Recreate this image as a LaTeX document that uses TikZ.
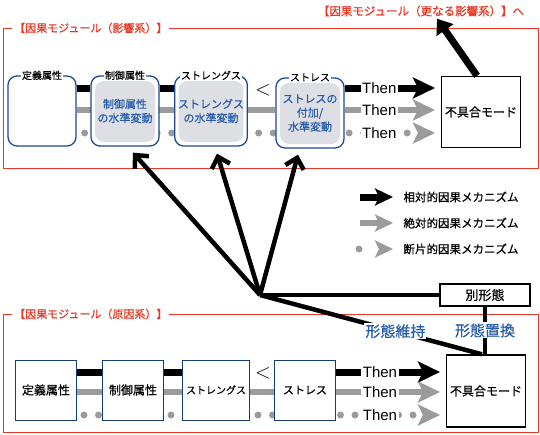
\documentclass[tikz,border=0pt]{standalone}
\usepackage{fontspec}
\setmainfont{Liberation Sans}
\newfontfamily\jp[FakeBold=0.6]{Noto Sans CJK JP}
\usetikzlibrary{arrows.meta,backgrounds}
\definecolor{modred}{RGB}{232,56,36}
\definecolor{attrblue}{RGB}{28,72,152}
\definecolor{textblue}{RGB}{38,92,172}
\definecolor{boxgray}{RGB}{222,223,228}
\definecolor{mechgray}{RGB}{155,155,155}
\tikzstyle{module}=[draw=modred, line width=1pt]
\tikzstyle{modlabel}=[
	text=modred,
	fill=white,
	inner sep=2pt,
	anchor=west,
	font=\jp\fontsize{11}{11}\selectfont
]
\tikzstyle{attr}=[
	rectangle,
	rounded corners=9pt,
	draw=attrblue,
	line width=1.3pt,
	fill=white,
	minimum width=68pt,
	minimum height=70pt,
	align=center,
	text=textblue,
	font=\jp\fontsize{11}{14}\selectfont
]
\tikzstyle{shaded}=[
	path picture={\fill[boxgray] ([shift={(4pt,-5pt)}]path picture bounding box.north west) rectangle ([shift={(-4pt,4pt)}]path picture bounding box.south east);}
]
\tikzstyle{attrtitle}=[fill=white, inner sep=1pt, font=\jp\fontsize{10}{10}\selectfont]
\tikzstyle{cause}=[
	rectangle,
	draw=attrblue!80!black,
	line width=1pt,
	fill=white,
	minimum width=61pt,
	minimum height=60pt,
	font=\jp\fontsize{12}{12}\selectfont
]
\tikzstyle{failure}=[
	rectangle,
	draw=black,
	line width=1.4pt,
	fill=white,
	minimum width=77pt,
	minimum height=71pt,
	font=\jp\fontsize{12}{12}\selectfont
]
\tikzstyle{relative}=[line width=7pt, draw=black]
\tikzstyle{absolute}=[line width=6pt, draw=mechgray]
\tikzstyle{fragment}=[line width=7pt, draw=mechgray, line cap=round, dash pattern=on 0pt off 14.5pt]
\tikzstyle{thenhead}=[-{Stealth[length=22pt,width=21pt,inset=5pt]}, shorten >=6pt]
\tikzstyle{leghead}=[-{Stealth[length=18pt,width=17pt,inset=4pt]}, shorten >=7pt]
\tikzstyle{thenlabel}=[fill=white, inner sep=1.5pt, text=black, font=\fontsize{15}{15}\selectfont]
\tikzstyle{influence}=[line width=4.5pt, -{Straight Barb[length=10pt,width=19pt]}]
\tikzstyle{link}=[line width=4.5pt]
\tikzstyle{mode}=[fill=white, inner sep=1pt, text=textblue, font=\jp\fontsize{15}{15}\selectfont]
\tikzstyle{legend}=[anchor=west, font=\jp\fontsize{11.5}{11.5}\selectfont]
\tikzstyle{lessthan}=[font=\fontsize{22}{22}\selectfont]
\begin{document}
\begin{tikzpicture}[x=1pt,y=-1pt]
\useasboundingbox (0,0) rectangle (540,434);

% modules
\draw[module] (3,28) rectangle (538,168);
\node[modlabel] (effectlabel) at (12,28) {【因果モジュール（影響系）】};
\draw[module] (3,314) rectangle (538,432);
\node[modlabel] (causelabel) at (12,314) {【因果モジュール（原因系）】};
\node[modlabel, anchor=center, font=\jp\fontsize{11.5}{11.5}\selectfont] (nextlabel) at (421,11) {【因果モジュール（更なる影響系）】へ};

% influence module
\node[attr] (defA) at (42,111) {};
\node[attr, shaded] (ctrlA) at (125,111) {制御属性\\の水準変動};
\node[attr, shaded] (strengthA) at (211,111) {ストレングス\\の水準変動};
\node[attr, shaded] (stressA) at (310,113) {ストレスの\\付加/\\水準変動};
\node[failure] (failA) at (481,112) {不具合モード};
\node[attrtitle] (defAtitle) at (defA.north) {定義属性};
\node[attrtitle] (ctrlAtitle) at (ctrlA.north) {制御属性};
\node[attrtitle] (strengthAtitle) at (strengthA.north) {ストレングス};
\node[attrtitle] (stressAtitle) at (stressA.north) {ストレス};
\node[lessthan] (ltA) at (263,90) {$<$};

\begin{scope}[on background layer]
\draw[absolute] ([yshift=1pt]defA.east) -- ([yshift=1pt]defA.east -| stressA.west);
\draw[fragment, dash phase=6.5pt] ([yshift=-22pt]defA.east) -- ([yshift=-22pt]defA.east -| stressA.west);
\end{scope}
\draw[relative] ([yshift=23pt]defA.east) -- ([yshift=23pt]ctrlA.west);
\draw[relative] ([yshift=23pt]ctrlA.east) -- ([yshift=23pt]strengthA.west);
\draw[relative, thenhead] ([yshift=23pt]defA.east -| stressA.east) -- ([yshift=23pt]defA.east -| failA.west) node[thenlabel, pos=0.36] (thenA1) {Then};
\draw[absolute, thenhead] ([yshift=1pt]defA.east -| stressA.east) -- ([yshift=1pt]defA.east -| failA.west) node[thenlabel, pos=0.36] (thenA2) {Then};
\draw[fragment, dash phase=10pt, thenhead] ([yshift=-22pt]defA.east -| stressA.east) -- ([yshift=-22pt]defA.east -| failA.west) node[thenlabel, pos=0.36] (thenA3) {Then};

% cause module
\node[cause] (defB) at (46,390) {定義属性};
\node[cause] (ctrlB) at (133,390) {制御属性};
\node[cause, font=\jp\fontsize{10}{10}\selectfont] (strengthB) at (216,390) {ストレングス};
\node[cause, font=\jp\fontsize{11}{11}\selectfont] (stressB) at (305,390) {ストレス};
\node[failure, minimum width=78pt, minimum height=72pt] (failB) at (486,391) {不具合モード};
\node[lessthan] (ltB) at (263,373) {$<$};

\begin{scope}[on background layer]
\draw[absolute] ([yshift=-2pt]defB.east) -- ([yshift=-2pt]stressB.west);
\draw[fragment, dash phase=7.5pt] ([yshift=-25pt]defB.east) -- ([yshift=-25pt]stressB.west);
\end{scope}
\draw[relative] ([yshift=18pt]defB.east) -- ([yshift=18pt]ctrlB.west);
\draw[relative] ([yshift=18pt]ctrlB.east) -- ([yshift=18pt]strengthB.west);
\draw[relative, thenhead] ([yshift=18pt]stressB.east) -- ([yshift=18pt]stressB.east -| failB.west) node[thenlabel, pos=0.4] (thenB1) {Then};
\draw[absolute, thenhead] ([yshift=-2pt]stressB.east) -- ([yshift=-2pt]stressB.east -| failB.west) node[thenlabel, pos=0.4] (thenB2) {Then};
\draw[fragment, dash phase=10pt, thenhead] ([yshift=-25pt]stressB.east) -- ([yshift=-25pt]stressB.east -| failB.west) node[thenlabel, pos=0.4] (thenB3) {Then};

% form
\coordinate (hub) at (260,295);
\node[draw, line width=1.2pt, fill=white, minimum width=90pt, minimum height=22pt, font=\jp\fontsize{13}{13}\selectfont] (altform) at (485,295) {別形態};
\draw[link] (hub) -- (altform);
\draw[link] (hub) -- ([xshift=-4pt]failB.north) node[mode, pos=0.61] (keep) {形態維持};
\draw[link] (altform) -- (altform |- failB.north) node[mode, pos=0.5] (replace) {形態置換};
\draw[influence] (hub) -- ([xshift=8pt,yshift=-6pt]ctrlA.south);
\draw[influence] (hub) -- ([xshift=6pt,yshift=-7pt]strengthA.south);
\draw[influence] (hub) -- ([xshift=-12pt,yshift=-6pt]stressA.south);
\draw[line width=7pt, -{Triangle[length=14pt,width=20pt]}] ([xshift=-4pt]failA.north) -- ([xshift=16pt]nextlabel.south);

% legend
\node[legend] (legrel) at (400,197) {相対的因果メカニズム};
\node[legend] (legabs) at (400,223) {絶対的因果メカニズム};
\node[legend] (legfrag) at (400,249) {断片的因果メカニズム};
\coordinate (relstart) at (360,197);
\coordinate (absstart) at (360,223);
\coordinate (fragstart) at (359,249);
\draw[relative, leghead] (relstart) -- (legrel.west);
\draw[absolute, leghead] (absstart) -- (legabs.west);
\draw[fragment, dash pattern=on 0pt off 40pt, leghead] (fragstart) -- (legfrag.west);
\end{tikzpicture}
\end{document}
